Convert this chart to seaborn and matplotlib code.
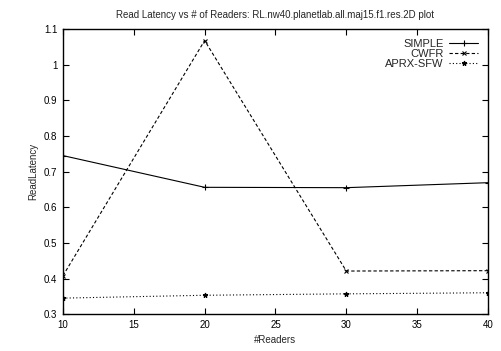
import matplotlib
matplotlib.use("Agg")
import matplotlib.pyplot as plt
import seaborn as sns
import pandas as pd

readers = [10, 20, 30, 40]
simple = [0.745, 0.656, 0.655, 0.669]
cwfr = [0.408, 1.068, 0.421, 0.422]
aprx_sfw = [0.345, 0.353, 0.357, 0.360]
series_names = ["SIMPLE", "CWFR", "APRX-SFW"]
x_ticks = [10, 15, 20, 25, 30, 35, 40]
y_ticks = [0.3, 0.4, 0.5, 0.6, 0.7, 0.8, 0.9, 1.0, 1.1]
y_ticklabels = ["0.3", "0.4", "0.5", "0.6", "0.7", "0.8", "0.9", "1", "1.1"]

sns.set_style("ticks")
plt.rcParams['font.family'] = ['Liberation Sans', 'DejaVu Sans']

fig = plt.figure(figsize=(5.01, 3.51), dpi=100)
ax = fig.add_axes([0.1257, 0.105, 0.974 - 0.1257, 0.917 - 0.105])

styles = [("-", "+", 4.5), ((0, (3, 2)), "x", 3.5), ((0, (1, 2)), "*", 3.5)]
for name, vals, (ls, mk, ms) in zip(series_names, [simple, cwfr, aprx_sfw], styles):
    df = pd.DataFrame({"x": readers, "y": vals})
    sns.lineplot(data=df, x="x", y="y", ax=ax, color="black", linestyle=ls,
                 marker=mk, markersize=ms, markeredgecolor="black",
                 markeredgewidth=0.8, linewidth=0.8, label=name)

ax.set_xlim(10, 40)
ax.set_ylim(0.3, 1.1)
ax.set_xticks(x_ticks)
ax.set_yticks(y_ticks)
ax.set_yticklabels(y_ticklabels)
ax.tick_params(direction="in", length=4, width=0.8, labelsize=7, top=True, right=True,
               colors="black", pad=4)
for s in ax.spines.values():
    s.set_linewidth(1.0)
    s.set_color("black")
ax.set_xlabel("#Readers", fontsize=7)
ax.set_ylabel("ReadLatency", fontsize=7)
ax.set_title("Read Latency vs # of Readers: RL.nw40.planetlab.all.maj15.f1.res.2D plot",
             fontsize=7, pad=8)
leg = ax.legend(loc="upper right", frameon=False, fontsize=8, markerfirst=False,
                handlelength=2.6, labelspacing=0.0, borderaxespad=0.5, handletextpad=0.5)

fig.savefig("out.png", dpi=100)
